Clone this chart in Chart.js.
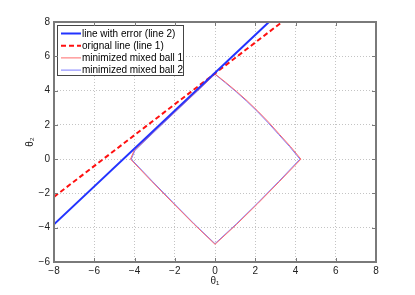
<!DOCTYPE html>
<html>
<head>
<meta charset="utf-8">
<script src="https://cdn.jsdelivr.net/npm/chart.js@4"></script>
<style>
html,body{margin:0;padding:0;background:#fff}
#wrap{width:415px;height:295px}
</style>
</head>
<body>
<div id="wrap"><canvas id="c" width="415" height="295"></canvas></div>
<script>
const xTicks = [-8,-6,-4,-2,0,2,4,6,8];
const yTicks = [-6,-4,-2,0,2,4,6,8];

// line 2 (with error) and line 1 (original)
const line2X = [-8, 2.68];
const line2Y = [-3.8, 8];
const line1X = [-8, 3.33];
const line1Y = [-2.2, 8];

// minimized mixed balls
const ball1X = [0, 0.53, 1.06, 1.6, 2.13, 2.67, 3.2, 3.74, 4.27, 3.19, 2.12, 1.06, 0, -1.05, -2.1, -3.15, -4.2, -4.02, -3.0, -2.0, -1.0, 0];
const ball1Y = [4.97, 4.48, 3.96, 3.4, 2.8, 2.15, 1.45, 0.75, 0, -1.32, -2.6, -3.82, -4.97, -3.79, -2.55, -1.29, 0, 0.5, 1.66, 2.76, 3.86, 4.97];
const ball2X = [0, 0.52, 1.05, 1.58, 2.11, 2.64, 3.17, 3.7, 4.22, 3.16, 2.1, 1.05, 0, -1.04, -2.08, -3.12, -4.16, -3.98, -2.98, -1.99, -0.99, 0];
const ball2Y = [4.95, 4.45, 3.93, 3.37, 2.77, 2.12, 1.43, 0.74, 0, -1.31, -2.58, -3.79, -4.93, -3.77, -2.53, -1.28, 0, 0.5, 1.63, 2.73, 3.84, 4.95];

const labels = ['line with error (line 2)','orignal line (line 1)','minimized mixed ball 1','minimized mixed ball 2'];

const pts = (xs, ys) => xs.map((x, i) => ({x: x, y: ys[i]}));
const fmt = v => (v < 0 ? '\u2212' + Math.abs(v) : String(v));
const FONT = 'Liberation Sans, Arial, Helvetica, sans-serif';

const frame = {
  id: 'frame',
  afterDraw(chart){
    const {ctx, chartArea:{left,right,top,bottom}, scales:{x,y}} = chart;
    // legend box
    const lx = 57.5, ly = 25.5, lw = 126, lh = 50;
    ctx.save();
    ctx.fillStyle = '#fff';
    ctx.fillRect(lx, ly, lw, lh);
    ctx.strokeStyle = '#444';
    ctx.lineWidth = 1;
    ctx.strokeRect(lx, ly, lw, lh);
    ctx.font = '10px ' + FONT;
    ctx.textBaseline = 'middle';
    ctx.fillStyle = '#000';
    chart.data.datasets.forEach((d, i) => {
      const yy = 33.5 + i * 12.2;
      ctx.beginPath();
      ctx.strokeStyle = d.borderColor;
      ctx.lineWidth = d.borderWidth;
      ctx.setLineDash(d.borderDash || []);
      ctx.moveTo(61, yy);
      ctx.lineTo(81, yy);
      ctx.stroke();
      ctx.setLineDash([]);
      ctx.fillText(d.label, 82, yy + 0.5);
    });
    // ticks inward + frame
    ctx.strokeStyle = '#7a7a7a';
    ctx.lineWidth = 1;
    ctx.beginPath();
    xTicks.forEach(v => {
      const px = Math.round(x.getPixelForValue(v)) + 0.5;
      ctx.moveTo(px, bottom); ctx.lineTo(px, bottom - 4);
      ctx.moveTo(px, top); ctx.lineTo(px, top + 4);
    });
    yTicks.forEach(v => {
      const py = Math.round(y.getPixelForValue(v)) + 0.5;
      ctx.moveTo(left, py); ctx.lineTo(left + 4, py);
      ctx.moveTo(right, py); ctx.lineTo(right - 4, py);
    });
    ctx.stroke();
    ctx.lineWidth = 2;
    ctx.strokeRect(left, top, right - left, bottom - top);
    ctx.restore();
  }
};

new Chart(document.getElementById('c'), {
  type: 'scatter',
  data: {
    datasets: [
      {label: labels[0], data: pts(line2X, line2Y), showLine: true, borderColor: '#2233ff', borderWidth: 2, pointRadius: 0, tension: 0},
      {label: labels[1], data: pts(line1X, line1Y), showLine: true, borderColor: '#ff1010', borderWidth: 2, borderDash: [5,3], pointRadius: 0, tension: 0},
      {label: labels[2], data: pts(ball1X, ball1Y), showLine: true, borderColor: '#ff6a6a', borderWidth: 1, pointRadius: 0, tension: 0},
      {label: labels[3], data: pts(ball2X, ball2Y), showLine: true, borderColor: '#7a7aff', borderWidth: 1, pointRadius: 0, tension: 0}
    ]
  },
  options: {
    responsive: false,
    animation: false,
    layout: {padding: {left: 24, top: 22, right: 39, bottom: 8}},
    plugins: {legend: {display: false}, tooltip: {enabled: false}},
    scales: {
      x: {
        type: 'linear', min: -8, max: 8,
        afterFit: s => { s.height = 25; },
        afterBuildTicks: s => { s.ticks = xTicks.map(v => ({value: v})); },
        ticks: {callback: fmt, color: '#222', font: {family: FONT, size: 10}, padding: 3, maxRotation: 0},
        grid: {color: '#c4c4c4', drawTicks: false},
        border: {display: false, dash: [1,2]},
        title: {display: true, text: '\u03b8\u2081', color: '#222', font: {family: FONT, size: 10}, padding: 0}
      },
      y: {
        type: 'linear', min: -6, max: 8,
        afterFit: s => { s.width = 30; },
        afterBuildTicks: s => { s.ticks = yTicks.map(v => ({value: v})); },
        ticks: {callback: fmt, color: '#222', font: {family: FONT, size: 10}, padding: 4},
        grid: {color: '#c4c4c4', drawTicks: false},
        border: {display: false, dash: [1,2]},
        title: {display: true, text: '\u03b8\u2082', color: '#222', font: {family: FONT, size: 10}, padding: 0}
      }
    }
  },
  plugins: [frame]
});
</script>
</body>
</html>
